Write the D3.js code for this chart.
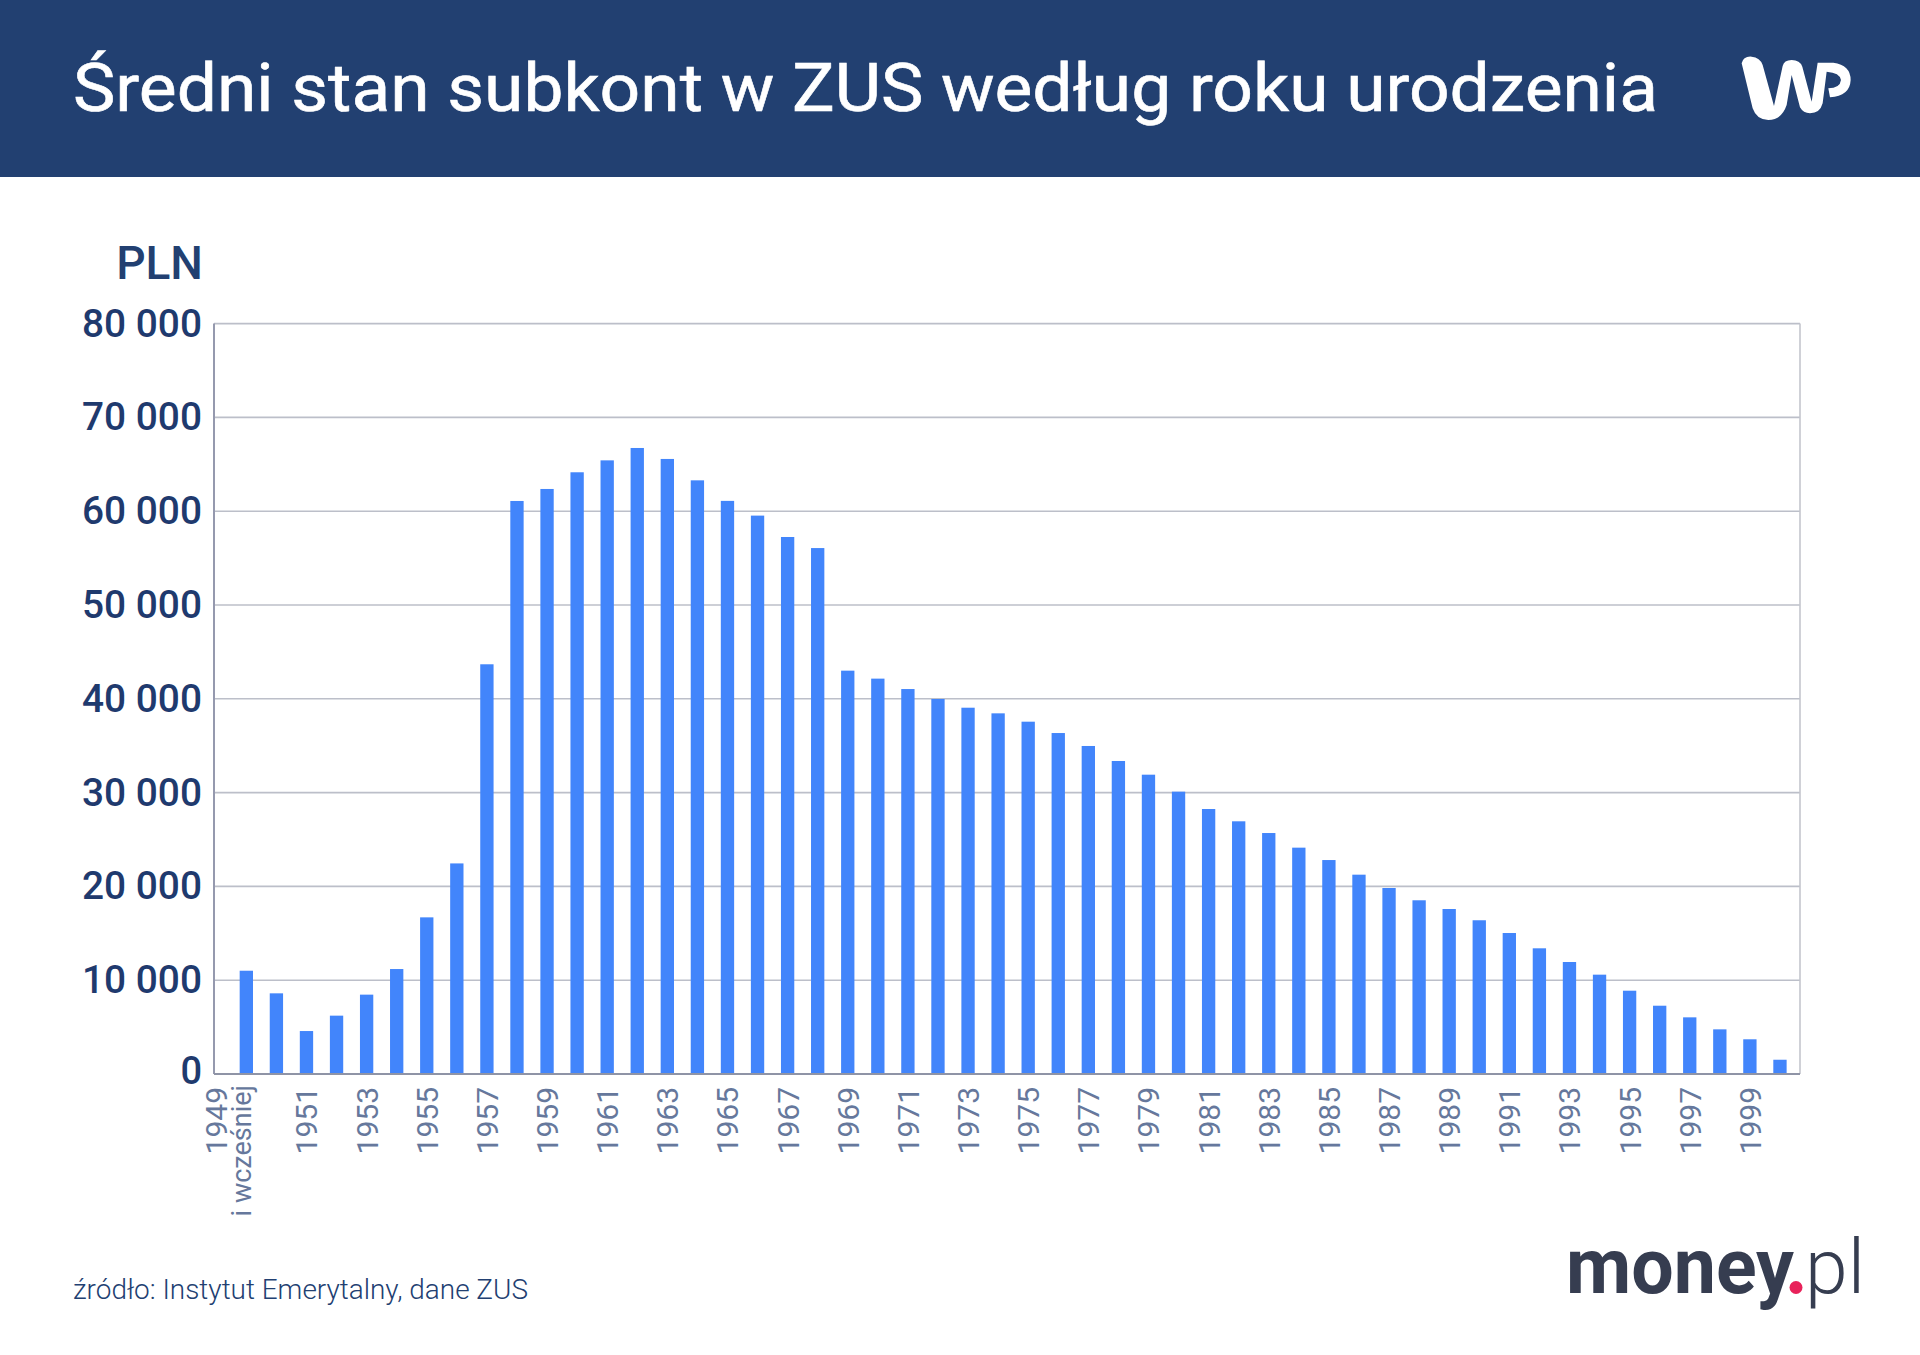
<!DOCTYPE html>
<html lang="pl">
<head>
<meta charset="utf-8">
<title>Średni stan subkont w ZUS według roku urodzenia</title>
<script src="https://cdnjs.cloudflare.com/ajax/libs/d3/7.8.5/d3.min.js"></script>
<style>
  html, body { margin: 0; padding: 0; background: #fff; }
  svg { display: block; }
  text { font-family: Roboto, sans-serif; }
</style>
</head>
<body>
<svg id="chart" width="1920" height="1355"></svg>
<script>
const years = d3.range(1949, 2001);
const balances = [
  11010, 8600, 4580, 6220, 8460, 11190, 16700, 22450, 43680, 61090,
  62370, 64150, 65420, 66740, 65570, 63290, 61100, 59530, 57250, 56070,
  43000, 42150, 41040, 39980, 39050, 38450, 37560, 36350, 34970, 33370,
  31910, 30100, 28250, 26940, 25690, 24130, 22810, 21250, 19830, 18520,
  17590, 16390, 15030, 13400, 11940, 10590, 8880, 7280, 6040, 4760,
  3700, 1520
];
const yTicks = [0, 10000, 20000, 30000, 40000, 50000, 60000, 70000, 80000];
const xTicks = years.filter(y => y % 2 === 1);

const titleText = 'Średni stan subkont w ZUS według roku urodzenia';
const sourceText = 'źródło: Instytut Emerytalny, dane ZUS';

const svg = d3.select('#chart');

// header band
svg.append('rect').attr('width', 1920).attr('height', 177).attr('fill', '#224071');
svg.append('text')
  .attr('x', 73).attr('y', 111)
  .attr('font-size', 67).attr('font-weight', 400).attr('fill', '#fff')
  .attr('stroke', '#fff').attr('stroke-width', 0.6)
  .attr('textLength', 1585).attr('lengthAdjust', 'spacingAndGlyphs')
  .text(titleText);

// WP logo, traced in a 3x crop of the header
svg.append('path')
  .attr('transform', 'translate(1640,20) scale(0.3333)')
  .attr('fill', '#fff')
  .attr('d', 'M305,130 Q310,108 335,110 Q360,112 368,135 L402,258 L428,138 Q432,120 455,120 Q480,120 487,140 L515,245 L533,128 L580,128 Q632,135 632,180 Q630,228 570,232 L565,205 Q600,205 603,180 Q600,158 560,155 L548,250 Q540,280 510,280 Q490,280 480,262 L455,165 L440,255 Q425,300 385,300 Q350,300 338,265 Z');

// scales
const x = d3.scaleBand()
  .domain(years)
  .range([231.3, 1795])
  .paddingInner(0.557)
  .paddingOuter(0.2785);
const y = d3.scaleLinear().domain([0, 80000]).range([1074, 323.6]);

const formatPl = d => d3.format(',')(d).replace(/,/g, ' ');

// grid
const plotLeft = 214, plotRight = 1800;
svg.append('g').selectAll('line')
  .data(yTicks.filter(d => d > 0))
  .enter().append('line')
  .attr('x1', plotLeft).attr('x2', plotRight)
  .attr('y1', d => y(d)).attr('y2', d => y(d))
  .attr('stroke', '#bcbfc9')
  .attr('stroke-width', 1.6);
svg.append('line')
  .attr('x1', plotRight).attr('x2', plotRight)
  .attr('y1', y(80000)).attr('y2', y(0))
  .attr('stroke', '#c4c6cd').attr('stroke-width', 1.6);
svg.append('line')
  .attr('x1', plotLeft).attr('x2', plotLeft)
  .attr('y1', y(80000)).attr('y2', y(0))
  .attr('stroke', '#9599ae').attr('stroke-width', 2);

// bars
svg.append('g').selectAll('rect')
  .data(years)
  .enter().append('rect')
  .attr('x', d => x(d))
  .attr('width', x.bandwidth())
  .attr('y', (d, i) => y(balances[i]))
  .attr('height', (d, i) => y(0) - y(balances[i]))
  .attr('fill', '#4285fb');

svg.append('line')
  .attr('x1', plotLeft).attr('x2', plotRight)
  .attr('y1', y(0)).attr('y2', y(0))
  .attr('stroke', '#8f94a6').attr('stroke-width', 2);

// y axis
const yAxis = svg.append('g')
  .attr('transform', `translate(${plotLeft},0)`)
  .call(d3.axisLeft(y).tickValues(yTicks).tickFormat(formatPl).tickSize(0).tickPadding(12));
yAxis.select('.domain').remove();
yAxis.selectAll('text')
  .attr('font-size', 38).attr('font-weight', 500).attr('fill', '#1f3a6e')
  .style('font-family', 'Roboto, sans-serif')
  .attr('dy', d => d === 0 ? '0.26em' : '0.33em')
  .filter(d => d > 0)
  .attr('textLength', 120).attr('lengthAdjust', 'spacingAndGlyphs');

svg.append('text')
  .attr('x', 203).attr('y', 279)
  .attr('text-anchor', 'end')
  .attr('font-size', 46).attr('font-weight', 500).attr('fill', '#224071')
  .text('PLN');

// x axis
const xAxis = svg.append('g')
  .attr('transform', `translate(0,${y(0)})`)
  .call(d3.axisBottom(x).tickValues(xTicks).tickSize(0));
xAxis.select('.domain').remove();
xAxis.selectAll('text')
  .attr('font-size', 30).attr('fill', '#66789c')
  .style('font-family', 'Roboto, sans-serif')
  .attr('text-anchor', 'end')
  .attr('dy', 0)
  .attr('y', 0)
  .attr('transform', d => `translate(${d === 1949 ? -30 : 0},13) rotate(-90) translate(0,11)`);

svg.append('text')
  .attr('transform', `translate(${x(1949) + x.bandwidth() / 2 + 4.5},1085) rotate(-90)`)
  .attr('text-anchor', 'end')
  .attr('font-size', 27).attr('fill', '#66789c')
  .text('i wcześniej');

// source
svg.append('text')
  .attr('x', 73).attr('y', 1299)
  .attr('font-size', 27).attr('font-weight', 300).attr('fill', '#224071')
  .attr('textLength', 455).attr('lengthAdjust', 'spacingAndGlyphs')
  .text(sourceText);

// money.pl logo
svg.append('text')
  .attr('x', 1566).attr('y', 1293)
  .attr('font-size', 78).attr('font-weight', 700).attr('fill', '#363d50')
  .attr('textLength', 228).attr('lengthAdjust', 'spacingAndGlyphs')
  .text('money');
svg.append('circle').attr('cx', 1796).attr('cy', 1287.5).attr('r', 6.5).attr('fill', '#e8225a');
svg.append('text')
  .attr('x', 1805).attr('y', 1293)
  .attr('font-size', 76).attr('font-weight', 300).attr('fill', '#363d50')
  .attr('textLength', 60).attr('lengthAdjust', 'spacingAndGlyphs')
  .text('pl');
</script>
</body>
</html>
